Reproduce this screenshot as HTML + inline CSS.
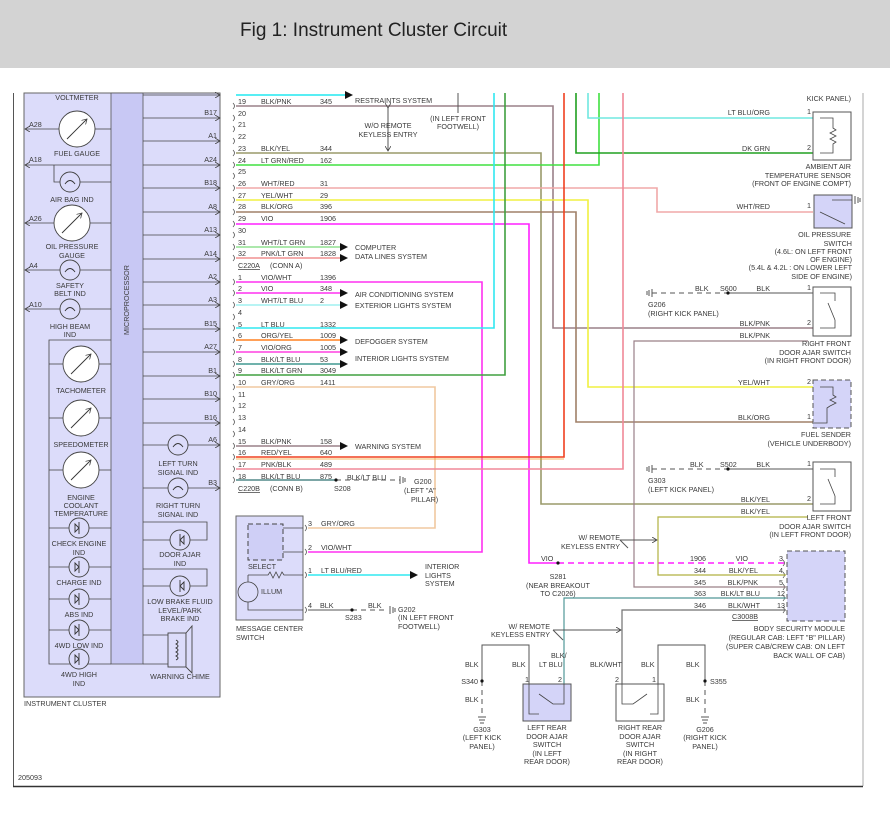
<!DOCTYPE html>
<html><head><meta charset="utf-8"><style>
html,body{margin:0;padding:0;background:#fff;}
svg{display:block;}
text{font-family:"Liberation Sans",sans-serif;font-size:7.2px;fill:#3a3a3a;}
.t{font-size:19px;fill:#222;}
.r{text-anchor:end;}
.m{text-anchor:middle;}
</style></head><body>
<svg width="890" height="818" viewBox="0 0 890 818" xmlns="http://www.w3.org/2000/svg">
<defs>
<marker id="ar" markerWidth="6" markerHeight="6" refX="5" refY="3" orient="auto" markerUnits="userSpaceOnUse"><path d="M0,0 L5,3 L0,6" fill="none" stroke="#444" stroke-width="0.8"/></marker>
<path id="cb" d="M0,-3 q3,3 0,6" fill="none" stroke="#555" stroke-width="0.8"/>
</defs>
<rect x="0" y="0" width="890" height="68" fill="#d3d3d3"/>
<text x="240" y="36" class="t">Fig 1: Instrument Cluster Circuit</text>
<line x1="13.5" y1="93" x2="13.5" y2="786" stroke="#555" stroke-width="1"/>
<line x1="863" y1="93" x2="863" y2="786" stroke="#aaa" stroke-width="1"/>
<line x1="13" y1="786.5" x2="863" y2="786.5" stroke="#333" stroke-width="1.5"/>
<text x="18" y="780">205093</text>

<rect x="24" y="93" width="196" height="604" fill="#dcdcfa" stroke="#666" stroke-width="1"/>
<rect x="111" y="93" width="32" height="571" fill="#c8c8f4" stroke="#555" stroke-width="0.8"/>
<text transform="translate(129,300) rotate(-90)" class="m">MICROPROCESSOR</text>
<text x="24" y="706">INSTRUMENT CLUSTER</text>
<g stroke="#444" stroke-width="0.8" fill="none">
<line x1="143" y1="95" x2="220" y2="95" marker-end="url(#ar)"/>
<line x1="143" y1="118" x2="220" y2="118" marker-end="url(#ar)"/>
<line x1="143" y1="141" x2="220" y2="141" marker-end="url(#ar)"/>
<line x1="143" y1="165" x2="220" y2="165" marker-end="url(#ar)"/>
<line x1="143" y1="188" x2="220" y2="188" marker-end="url(#ar)"/>
<line x1="143" y1="212" x2="220" y2="212" marker-end="url(#ar)"/>
<line x1="143" y1="235" x2="220" y2="235" marker-end="url(#ar)"/>
<line x1="143" y1="259" x2="220" y2="259" marker-end="url(#ar)"/>
<line x1="143" y1="282" x2="220" y2="282" marker-end="url(#ar)"/>
<line x1="143" y1="305" x2="220" y2="305" marker-end="url(#ar)"/>
<line x1="143" y1="329" x2="220" y2="329" marker-end="url(#ar)"/>
<line x1="143" y1="352" x2="220" y2="352" marker-end="url(#ar)"/>
<line x1="143" y1="376" x2="220" y2="376" marker-end="url(#ar)"/>
<line x1="143" y1="399" x2="220" y2="399" marker-end="url(#ar)"/>
<line x1="143" y1="423" x2="220" y2="423" marker-end="url(#ar)"/>
<line x1="143" y1="445" x2="220" y2="445" marker-end="url(#ar)"/>
<line x1="143" y1="488" x2="220" y2="488" marker-end="url(#ar)"/>
<line x1="59" y1="129" x2="25" y2="129" marker-end="url(#ar)"/>
<line x1="95" y1="129" x2="111" y2="129"/>
<line x1="111" y1="165" x2="25" y2="165" marker-end="url(#ar)"/>
<polyline points="54,165 54,182 60,182"/><line x1="80" y1="182" x2="111" y2="182"/>
<line x1="54" y1="223" x2="25" y2="223" marker-end="url(#ar)"/>
<line x1="90" y1="223" x2="111" y2="223"/>
<line x1="111" y1="270" x2="25" y2="270" marker-end="url(#ar)"/>
<line x1="111" y1="309" x2="25" y2="309" marker-end="url(#ar)"/>
<polyline points="111,340 49,340 49,664 111,664"/>
<line x1="49" y1="364" x2="63" y2="364"/><line x1="99" y1="364" x2="111" y2="364"/>
<line x1="49" y1="418" x2="63" y2="418"/><line x1="99" y1="418" x2="111" y2="418"/>
<line x1="49" y1="470" x2="63" y2="470"/><line x1="99" y1="470" x2="111" y2="470"/>
<line x1="49" y1="528" x2="111" y2="528"/>
<line x1="49" y1="567" x2="111" y2="567"/>
<line x1="49" y1="599" x2="111" y2="599"/>
<line x1="49" y1="630" x2="111" y2="630"/>
<polyline points="143,522 207,522 207,540 190,540"/><line x1="170" y1="540" x2="143" y2="540"/>
<polyline points="143,569 207,569 207,586 190,586"/><line x1="170" y1="586" x2="143" y2="586"/>
<line x1="143" y1="635" x2="168" y2="635"/><line x1="143" y1="664" x2="168" y2="664"/>
</g>
<g fill="#fff" stroke="#444" stroke-width="0.9">
<circle cx="77" cy="129" r="18"/><circle cx="72" cy="223" r="18"/>
<circle cx="81" cy="364" r="18"/><circle cx="81" cy="418" r="18"/><circle cx="81" cy="470" r="18"/>
</g>
<g fill="#dcdcfa" stroke="#444" stroke-width="0.9">
<circle cx="70" cy="182" r="10"/><circle cx="70" cy="270" r="10"/><circle cx="70" cy="309" r="10"/>
<circle cx="178" cy="445" r="10"/><circle cx="178" cy="488" r="10"/>
<circle cx="79" cy="528" r="10"/><circle cx="79" cy="567" r="10"/><circle cx="79" cy="599" r="10"/><circle cx="79" cy="630" r="10"/><circle cx="79" cy="659" r="10"/>
<circle cx="180" cy="540" r="10"/><circle cx="180" cy="586" r="10"/>
<rect x="168" y="633" width="18" height="34"/><polygon points="186,633 192,626 192,673 186,667"/>
</g>
<g stroke="#333" stroke-width="0.9" fill="none">
<line x1="67" y1="139" x2="87" y2="119" marker-end="url(#ar)"/>
<line x1="62" y1="233" x2="82" y2="213" marker-end="url(#ar)"/>
<line x1="71" y1="374" x2="91" y2="354" marker-end="url(#ar)"/>
<line x1="71" y1="428" x2="91" y2="408" marker-end="url(#ar)"/>
<line x1="71" y1="480" x2="91" y2="460" marker-end="url(#ar)"/>
<path d="M65,184 q5,-7 10,0 M65,272 q5,-7 10,0 M65,311 q5,-7 10,0 M173,447 q5,-7 10,0 M173,490 q5,-7 10,0"/>
<path d="M79,522 v12 M75,524 l4,4 l-4,4z M79,561 v12 M75,563 l4,4 l-4,4z M79,593 v12 M75,595 l4,4 l-4,4z M79,624 v12 M75,626 l4,4 l-4,4z M79,653 v12 M75,655 l4,4 l-4,4z M180,534 v12 M184,536 l-4,4 l4,4z M180,580 v12 M184,582 l-4,4 l4,4z"/>
<path d="M176,640 q4,2 0,4 q4,2 0,4 q4,2 0,4 q4,2 0,4 q4,2 0,4"/>
</g>
<g>
<text x="77" y="100" class="m">VOLTMETER</text>
<text x="29" y="127">A28</text><text x="77" y="156" class="m">FUEL GAUGE</text>
<text x="29" y="162">A18</text><text x="72" y="202" class="m">AIR BAG IND</text>
<text x="29" y="221">A26</text><text x="72" y="249" class="m">OIL PRESSURE</text><text x="72" y="258" class="m">GAUGE</text>
<text x="29" y="268">A4</text><text x="70" y="288" class="m">SAFETY</text><text x="70" y="296" class="m">BELT IND</text>
<text x="29" y="307">A10</text><text x="70" y="329" class="m">HIGH BEAM</text><text x="70" y="337" class="m">IND</text>
<text x="81" y="393" class="m">TACHOMETER</text>
<text x="81" y="447" class="m">SPEEDOMETER</text>
<text x="81" y="500" class="m">ENGINE</text><text x="81" y="508" class="m">COOLANT</text><text x="81" y="516" class="m">TEMPERATURE</text>
<text x="79" y="546" class="m">CHECK ENGINE</text><text x="79" y="555" class="m">IND</text>
<text x="79" y="585" class="m">CHARGE IND</text>
<text x="79" y="617" class="m">ABS IND</text>
<text x="79" y="648" class="m">4WD LOW IND</text>
<text x="79" y="677" class="m">4WD HIGH</text><text x="79" y="686" class="m">IND</text>
<text x="217" y="115" class="r">B17</text><text x="217" y="138" class="r">A1</text><text x="217" y="162" class="r">A24</text>
<text x="217" y="185" class="r">B18</text><text x="217" y="209" class="r">A8</text><text x="217" y="232" class="r">A13</text>
<text x="217" y="256" class="r">A14</text><text x="217" y="279" class="r">A2</text><text x="217" y="302" class="r">A3</text>
<text x="217" y="326" class="r">B15</text><text x="217" y="349" class="r">A27</text><text x="217" y="373" class="r">B1</text>
<text x="217" y="396" class="r">B10</text><text x="217" y="420" class="r">B16</text><text x="217" y="442" class="r">A6</text>
<text x="217" y="485" class="r">B3</text>
<text x="178" y="466" class="m">LEFT TURN</text><text x="178" y="475" class="m">SIGNAL IND</text>
<text x="178" y="508" class="m">RIGHT TURN</text><text x="178" y="517" class="m">SIGNAL IND</text>
<text x="180" y="557" class="m">DOOR AJAR</text><text x="180" y="566" class="m">IND</text>
<text x="180" y="604" class="m">LOW BRAKE FLUID</text><text x="180" y="613" class="m">LEVEL/PARK</text><text x="180" y="621" class="m">BRAKE IND</text>
<text x="180" y="679" class="m">WARNING CHIME</text>
</g>

<!-- connector marks -->
<g>
<use href="#cb" x="233" y="106"/><use href="#cb" x="233" y="118"/><use href="#cb" x="233" y="129"/><use href="#cb" x="233" y="141"/><use href="#cb" x="233" y="153"/><use href="#cb" x="233" y="165"/><use href="#cb" x="233" y="176"/><use href="#cb" x="233" y="188"/><use href="#cb" x="233" y="200"/><use href="#cb" x="233" y="212"/><use href="#cb" x="233" y="224"/><use href="#cb" x="233" y="235"/><use href="#cb" x="233" y="247"/><use href="#cb" x="233" y="258"/>
<use href="#cb" x="233" y="282"/><use href="#cb" x="233" y="293"/><use href="#cb" x="233" y="305"/><use href="#cb" x="233" y="317"/><use href="#cb" x="233" y="328"/><use href="#cb" x="233" y="340"/><use href="#cb" x="233" y="352"/><use href="#cb" x="233" y="364"/><use href="#cb" x="233" y="375"/><use href="#cb" x="233" y="387"/><use href="#cb" x="233" y="399"/><use href="#cb" x="233" y="410"/><use href="#cb" x="233" y="422"/><use href="#cb" x="233" y="434"/><use href="#cb" x="233" y="446"/><use href="#cb" x="233" y="457"/><use href="#cb" x="233" y="469"/><use href="#cb" x="233" y="480"/>
<use href="#cb" x="783" y="563"/><use href="#cb" x="783" y="575"/><use href="#cb" x="783" y="587"/><use href="#cb" x="783" y="598"/><use href="#cb" x="783" y="610"/>
<use href="#cb" x="305" y="528"/><use href="#cb" x="305" y="552"/><use href="#cb" x="305" y="575"/><use href="#cb" x="305" y="610"/>
</g>

<g fill="none" stroke-width="1.6">
<polyline points="236,95 345,95" stroke="#20e8f0"/>
<polyline points="236,106 553,106 553,328 813,328" stroke="#9a8088"/>
<polyline points="236,153 541,153 541,504 813,504" stroke="#9a9a6a"/>
<polyline points="236,165 599,165 599,93" stroke="#40e040"/>
<polyline points="236,188 657,188 657,212 813,212" stroke="#f0a8a8"/>
<polyline points="236,200 588,200 588,387 813,387" stroke="#f0f040"/>
<polyline points="236,212 576,212 576,422 813,422" stroke="#a08068"/>
<polyline points="576,93 576,153 813,153" stroke="#20a020"/>
<polyline points="588,93 588,118 813,118" stroke="#70e8e0"/>
<polyline points="236,224 529,224 529,563 558,563" stroke="#ff20ff"/>
<line x1="558" y1="563" x2="786" y2="563" stroke="#ff20ff" stroke-dasharray="6,4"/>
<line x1="236" y1="247" x2="340" y2="247" stroke="#90e090"/>
<line x1="236" y1="258" x2="340" y2="258" stroke="#f09090"/>
<polyline points="236,282 482,282 482,552 308,552" stroke="#ff30f0"/>
<line x1="236" y1="293" x2="340" y2="293" stroke="#ff30f0"/>
<line x1="236" y1="305" x2="340" y2="305" stroke="#a0f0f0"/>
<polyline points="236,328 494,328 494,93" stroke="#30e8f0"/>
<line x1="236" y1="340" x2="340" y2="340" stroke="#ff8020"/>
<line x1="236" y1="352" x2="340" y2="352" stroke="#ff40e0"/>
<line x1="236" y1="364" x2="340" y2="364" stroke="#409890"/>
<polyline points="236,375 505,375 505,93" stroke="#40a040"/>
<polyline points="236,387 435,387 435,528 308,528" stroke="#f0c8a0"/>
<line x1="236" y1="446" x2="340" y2="446" stroke="#9a8088"/>
<polyline points="236,457 564,457 564,93" stroke="#f04020"/>
<line x1="236" y1="459" x2="564" y2="459" stroke="#f0a030" stroke-width="0.8"/>
<polyline points="236,469 623,469 623,93" stroke="#f08898"/>
<line x1="236" y1="480" x2="336" y2="480" stroke="#508888"/>
<line x1="308" y1="575" x2="410" y2="575" stroke="#30e8f0"/>
<polyline points="808,341 800,341 634,341 634,587 786,587" stroke="#9a8088" stroke-width="1.2"/>
<polyline points="808,517 658,517 658,575 786,575" stroke="#b0b040" stroke-width="1.2"/>
<polyline points="786,598 564,598 564,684" stroke="#509898" stroke-width="1.2"/>
<polyline points="786,610 622,610 622,684" stroke="#707070" stroke-width="1.2"/>
</g>
<g fill="none" stroke="#555" stroke-width="1">
<line x1="336" y1="480" x2="400" y2="480" stroke-dasharray="5,4"/>
<line x1="652" y1="293" x2="728" y2="293" stroke-dasharray="5,4"/>
<line x1="728" y1="293" x2="813" y2="293"/>
<line x1="652" y1="469" x2="728" y2="469" stroke-dasharray="5,4"/>
<line x1="728" y1="469" x2="813" y2="469"/>
<line x1="308" y1="610" x2="352" y2="610"/>
<line x1="352" y1="610" x2="388" y2="610" stroke-dasharray="5,4"/>
<polyline points="529,684 529,645 482,645 482,681"/>
<line x1="482" y1="681" x2="482" y2="716" stroke-dasharray="5,4"/>
<polyline points="658,684 658,645 705,645 705,681"/>
<line x1="705" y1="681" x2="705" y2="716" stroke-dasharray="5,4"/>
<line x1="388" y1="108" x2="388" y2="151" marker-end="url(#ar)" marker-start="url(#ar)"/>
<line x1="458" y1="93" x2="458" y2="113"/>
<polyline points="620,540 657,540" marker-end="url(#ar)"/><line x1="620" y1="540" x2="628" y2="548"/>
<polyline points="553,630 621,630" marker-end="url(#ar)"/><line x1="553" y1="630" x2="563" y2="640"/>
</g>
<g fill="#111">
<polygon points="345,91 353,95 345,99"/>
<polygon points="340,243 348,247 340,251"/><polygon points="340,254 348,258 340,262"/>
<polygon points="340,289 348,293 340,297"/><polygon points="340,301 348,305 340,309"/>
<polygon points="340,336 348,340 340,344"/><polygon points="340,348 348,352 340,356"/><polygon points="340,360 348,364 340,368"/>
<polygon points="340,442 348,446 340,450"/>
<polygon points="410,571 418,575 410,579"/>
<circle cx="336" cy="480" r="1.6"/><circle cx="728" cy="293" r="1.6"/><circle cx="728" cy="469" r="1.6"/>
<circle cx="352" cy="610" r="1.6"/><circle cx="558" cy="563" r="1.6"/>
<circle cx="482" cy="681" r="1.6"/><circle cx="705" cy="681" r="1.6"/>
</g>
<g stroke="#555" stroke-width="1" fill="none">
<path d="M400,476 v8 M403,477 v6 M405,478 v4"/>
<path d="M652,289 v8 M649,290 v6 M647,291 v4"/>
<path d="M652,465 v8 M649,466 v6 M647,467 v4"/>
<path d="M390,606 v8 M393,607 v6 M395,608 v4"/>
<path d="M478,717 h8 M479,720 h6 M480,723 h4"/>
<path d="M701,717 h8 M702,720 h6 M703,723 h4"/>
<path d="M855,196 v8 M858,197 v6 M860,198 v4"/>
</g>

<g>
<text x="238" y="104">19</text><text x="261" y="104">BLK/PNK</text><text x="320" y="104">345</text>
<text x="238" y="116">20</text><text x="238" y="127">21</text><text x="238" y="139">22</text>
<text x="238" y="151">23</text><text x="261" y="151">BLK/YEL</text><text x="320" y="151">344</text>
<text x="238" y="163">24</text><text x="261" y="163">LT GRN/RED</text><text x="320" y="163">162</text>
<text x="238" y="174">25</text>
<text x="238" y="186">26</text><text x="261" y="186">WHT/RED</text><text x="320" y="186">31</text>
<text x="238" y="198">27</text><text x="261" y="198">YEL/WHT</text><text x="320" y="198">29</text>
<text x="238" y="209">28</text><text x="261" y="209">BLK/ORG</text><text x="320" y="209">396</text>
<text x="238" y="221">29</text><text x="261" y="221">VIO</text><text x="320" y="221">1906</text>
<text x="238" y="233">30</text>
<text x="238" y="245">31</text><text x="261" y="245">WHT/LT GRN</text><text x="320" y="245">1827</text>
<text x="238" y="256">32</text><text x="261" y="256">PNK/LT GRN</text><text x="320" y="256">1828</text>
<text x="238" y="268" text-decoration="underline">C220A</text><text x="270" y="268">(CONN A)</text>
<text x="238" y="280">1</text><text x="261" y="280">VIO/WHT</text><text x="320" y="280">1396</text>
<text x="238" y="291">2</text><text x="261" y="291">VIO</text><text x="320" y="291">348</text>
<text x="238" y="303">3</text><text x="261" y="303">WHT/LT BLU</text><text x="320" y="303">2</text>
<text x="238" y="315">4</text>
<text x="238" y="327">5</text><text x="261" y="327">LT BLU</text><text x="320" y="327">1332</text>
<text x="238" y="338">6</text><text x="261" y="338">ORG/YEL</text><text x="320" y="338">1009</text>
<text x="238" y="350">7</text><text x="261" y="350">VIO/ORG</text><text x="320" y="350">1005</text>
<text x="238" y="362">8</text><text x="261" y="362">BLK/LT BLU</text><text x="320" y="362">53</text>
<text x="238" y="373">9</text><text x="261" y="373">BLK/LT GRN</text><text x="320" y="373">3049</text>
<text x="238" y="385">10</text><text x="261" y="385">GRY/ORG</text><text x="320" y="385">1411</text>
<text x="238" y="397">11</text><text x="238" y="408">12</text><text x="238" y="420">13</text><text x="238" y="432">14</text>
<text x="238" y="444">15</text><text x="261" y="444">BLK/PNK</text><text x="320" y="444">158</text>
<text x="238" y="455">16</text><text x="261" y="455">RED/YEL</text><text x="320" y="455">640</text>
<text x="238" y="467">17</text><text x="261" y="467">PNK/BLK</text><text x="320" y="467">489</text>
<text x="238" y="479">18</text><text x="261" y="479">BLK/LT BLU</text><text x="320" y="479">875</text>
<text x="238" y="491" text-decoration="underline">C220B</text><text x="270" y="491">(CONN B)</text>
<text x="334" y="491">S208</text><text x="347" y="480">BLK/LT BLU</text>
<text x="414" y="484">G200</text><text x="404" y="493">(LEFT "A"</text><text x="411" y="502">PILLAR)</text>
<text x="355" y="103">RESTRAINTS SYSTEM</text>
<text x="388" y="128" class="m">W/O REMOTE</text><text x="388" y="137" class="m">KEYLESS ENTRY</text>
<text x="458" y="121" class="m">(IN LEFT FRONT</text><text x="458" y="129" class="m">FOOTWELL)</text>
<text x="355" y="250">COMPUTER</text><text x="355" y="259">DATA LINES SYSTEM</text>
<text x="355" y="297">AIR CONDITIONING SYSTEM</text><text x="355" y="308">EXTERIOR LIGHTS SYSTEM</text>
<text x="355" y="344">DEFOGGER SYSTEM</text><text x="355" y="361">INTERIOR LIGHTS SYSTEM</text>
<text x="355" y="449">WARNING SYSTEM</text>
</g>

<rect x="236" y="516" width="67" height="104" fill="#dcdcfa" stroke="#666"/>
<rect x="248" y="524" width="35" height="36" fill="#cfcff6" stroke="#444" stroke-dasharray="5,3"/>
<g stroke="#444" stroke-width="0.8" fill="none">
<line x1="283" y1="528" x2="303" y2="528"/><line x1="283" y1="552" x2="303" y2="552"/>
<path d="M248,575 h20 l2,-3 l3,6 l3,-6 l3,6 l3,-6 l2,3 h19"/>
<polyline points="248,575 248,610 303,610"/>
<circle cx="248" cy="592" r="10" fill="#dcdcfa"/>
</g>
<text x="248" y="569">SELECT</text><text x="261" y="594">ILLUM</text>
<text x="236" y="631">MESSAGE CENTER</text><text x="236" y="640">SWITCH</text>
<text x="308" y="526">3</text><text x="321" y="526">GRY/ORG</text>
<text x="308" y="550">2</text><text x="321" y="550">VIO/WHT</text>
<text x="308" y="573">1</text><text x="321" y="573">LT BLU/RED</text>
<text x="308" y="608">4</text><text x="320" y="608">BLK</text><text x="368" y="608">BLK</text>
<text x="345" y="620">S283</text>
<text x="398" y="612">G202</text><text x="398" y="620">(IN LEFT FRONT</text><text x="398" y="629">FOOTWELL)</text>
<text x="425" y="569">INTERIOR</text><text x="425" y="578">LIGHTS</text><text x="425" y="586">SYSTEM</text>

<g stroke="#555" stroke-width="1">
<rect x="813" y="112" width="38" height="48" fill="#fff"/>
<rect x="814" y="195" width="38" height="33" fill="#d4d4f8"/>
<rect x="813" y="287" width="38" height="49" fill="#fff"/>
<rect x="813" y="380" width="38" height="48" fill="#d4d4f8" stroke-dasharray="5,3"/>
<rect x="813" y="462" width="38" height="49" fill="#fff"/>
<rect x="787" y="551" width="58" height="70" fill="#d4d4f8" stroke-dasharray="5,3"/>
<rect x="523" y="684" width="48" height="37" fill="#d4d4f8"/>
<rect x="616" y="684" width="48" height="37" fill="#fff"/>
</g>
<g stroke="#444" stroke-width="0.8" fill="none">
<path d="M820,118 h13 v10 l3,2 -6,3 6,3 -6,3 6,3 -3,2 v9 h-13"/>
<line x1="820" y1="212" x2="845" y2="224"/><path d="M832,200 h20"/>
<path d="M820,293 h15 v8 M820,328 h15 v-8 M828,303 l7,17"/>
<path d="M820,387 h13 v8 l3,2 -6,3 6,3 -6,3 -3,2 v6 v9 h-13"/>
<path d="M820,469 h15 v8 M820,504 h15 v-8 M828,479 l7,17"/>
<path d="M529,684 v30 h10 M564,684 v20 h-11 l-14,-10"/>
<path d="M622,684 v20 h11 l14,-10 M658,684 v30 h-8"/>
</g>
<g>
<text x="851" y="101" class="r">KICK PANEL)</text>
<text x="770" y="115" class="r">LT BLU/ORG</text><text x="807" y="114">1</text>
<text x="770" y="151" class="r">DK GRN</text><text x="807" y="150">2</text>
<text x="851" y="169" class="r">AMBIENT AIR</text><text x="851" y="178" class="r">TEMPERATURE SENSOR</text><text x="851" y="186" class="r">(FRONT OF ENGINE COMPT)</text>
<text x="770" y="209" class="r">WHT/RED</text><text x="807" y="208">1</text>
<text x="851" y="237" class="r">OIL PRESSURE</text><text x="852" y="246" class="r">SWITCH</text><text x="852" y="254" class="r">(4.6L: ON LEFT FRONT</text><text x="852" y="262" class="r">OF ENGINE)</text><text x="852" y="270" class="r">(5.4L &amp; 4.2L : ON LOWER LEFT</text><text x="852" y="279" class="r">SIDE OF ENGINE)</text>
<text x="695" y="291">BLK</text><text x="720" y="291">S600</text><text x="770" y="291" class="r">BLK</text><text x="807" y="290">1</text>
<text x="648" y="307">G206</text><text x="648" y="316">(RIGHT KICK PANEL)</text>
<text x="770" y="326" class="r">BLK/PNK</text><text x="807" y="325">2</text><text x="770" y="338" class="r">BLK/PNK</text>
<text x="851" y="346" class="r">RIGHT FRONT</text><text x="851" y="355" class="r">DOOR AJAR SWITCH</text><text x="851" y="363" class="r">(IN RIGHT FRONT DOOR)</text>
<text x="770" y="385" class="r">YEL/WHT</text><text x="807" y="384">2</text>
<text x="770" y="420" class="r">BLK/ORG</text><text x="807" y="419">1</text>
<text x="851" y="437" class="r">FUEL SENDER</text><text x="851" y="446" class="r">(VEHICLE UNDERBODY)</text>
<text x="690" y="467">BLK</text><text x="720" y="467">S502</text><text x="770" y="467" class="r">BLK</text><text x="807" y="466">1</text>
<text x="648" y="483">G303</text><text x="648" y="492">(LEFT KICK PANEL)</text>
<text x="770" y="502" class="r">BLK/YEL</text><text x="807" y="501">2</text><text x="770" y="514" class="r">BLK/YEL</text>
<text x="851" y="520" class="r">LEFT FRONT</text><text x="851" y="529" class="r">DOOR AJAR SWITCH</text><text x="851" y="537" class="r">(IN LEFT FRONT DOOR)</text>
<text x="620" y="540" class="r">W/ REMOTE</text><text x="620" y="549" class="r">KEYLESS ENTRY</text>
<text x="541" y="561">VIO</text><text x="558" y="579" class="m">S281</text><text x="558" y="588" class="m">(NEAR BREAKOUT</text><text x="558" y="596" class="m">TO C2026)</text>
<text x="706" y="561" class="r">1906</text><text x="748" y="561" class="r">VIO</text><text x="779" y="561">3</text>
<text x="706" y="573" class="r">344</text><text x="758" y="573" class="r">BLK/YEL</text><text x="779" y="573">4</text>
<text x="706" y="585" class="r">345</text><text x="758" y="585" class="r">BLK/PNK</text><text x="779" y="585">5</text>
<text x="706" y="596" class="r">363</text><text x="760" y="596" class="r">BLK/LT BLU</text><text x="777" y="596">12</text>
<text x="706" y="608" class="r">346</text><text x="760" y="608" class="r">BLK/WHT</text><text x="777" y="608">13</text>
<text x="758" y="619" class="r" text-decoration="underline">C3008B</text>
<text x="845" y="631" class="r">BODY SECURITY MODULE</text><text x="845" y="640" class="r">(REGULAR CAB: LEFT "B" PILLAR)</text><text x="845" y="649" class="r">(SUPER CAB/CREW CAB: ON LEFT</text><text x="845" y="658" class="r">BACK WALL OF CAB)</text>
<text x="550" y="629" class="r">W/ REMOTE</text><text x="550" y="637" class="r">KEYLESS ENTRY</text>
<text x="465" y="667">BLK</text><text x="512" y="667">BLK</text><text x="551" y="658">BLK/</text><text x="539" y="667">LT BLU</text>
<text x="590" y="667">BLK/WHT</text><text x="641" y="667">BLK</text><text x="686" y="667">BLK</text>
<text x="478" y="684" class="r">S340</text><text x="710" y="684">S355</text>
<text x="465" y="702">BLK</text><text x="686" y="702">BLK</text>
<text x="525" y="682">1</text><text x="558" y="682">2</text><text x="615" y="682">2</text><text x="652" y="682">1</text>
<text x="482" y="732" class="m">G303</text><text x="482" y="740" class="m">(LEFT KICK</text><text x="482" y="749" class="m">PANEL)</text>
<text x="705" y="732" class="m">G206</text><text x="705" y="740" class="m">(RIGHT KICK</text><text x="705" y="749" class="m">PANEL)</text>
<text x="547" y="730" class="m">LEFT REAR</text><text x="547" y="739" class="m">DOOR AJAR</text><text x="547" y="747" class="m">SWITCH</text><text x="547" y="756" class="m">(IN LEFT</text><text x="547" y="764" class="m">REAR DOOR)</text>
<text x="640" y="730" class="m">RIGHT REAR</text><text x="640" y="739" class="m">DOOR AJAR</text><text x="640" y="747" class="m">SWITCH</text><text x="640" y="756" class="m">(IN RIGHT</text><text x="640" y="764" class="m">REAR DOOR)</text>
</g>
</svg>
</body></html>
